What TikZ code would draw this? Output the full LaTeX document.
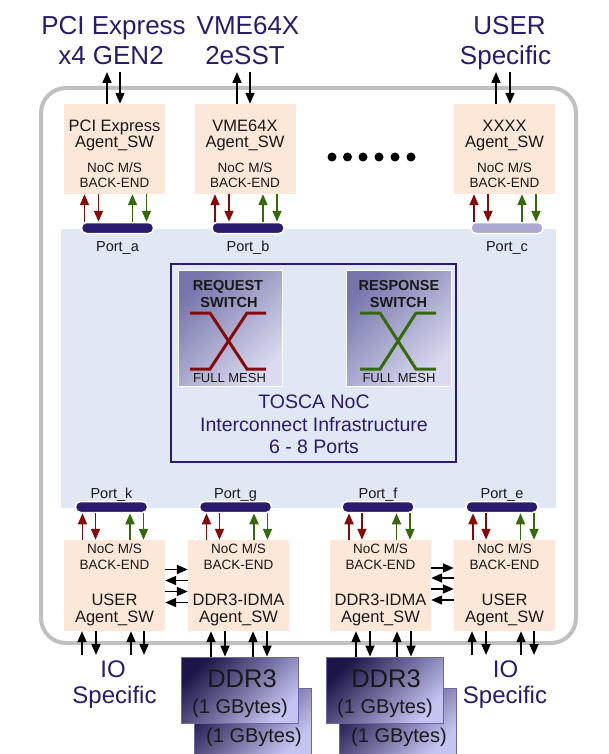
\documentclass[tikz,border=0pt]{standalone}
\usepackage{fontspec}
\setmainfont{Liberation Sans}
\usetikzlibrary{arrows.meta,calc}
\definecolor{navy}{RGB}{43,27,110}
\definecolor{peach}{RGB}{252,231,217}
\definecolor{lblue}{RGB}{224,232,246}
\definecolor{dred}{RGB}{135,10,10}
\definecolor{dgreen}{RGB}{55,105,10}
\definecolor{gborder}{RGB}{192,192,192}
\definecolor{portc}{RGB}{170,170,208}
\definecolor{swdark}{RGB}{118,118,172}
\definecolor{swlight}{RGB}{218,218,240}
\definecolor{ddrdark}{RGB}{28,22,72}
\definecolor{ddrlight}{RGB}{196,196,242}
\definecolor{ddredge}{RGB}{110,100,170}
\definecolor{ink}{RGB}{25,25,25}

\newcommand{\myvc}[5]{\draw[#1] let \p3=(#2), \p1=(#3), \p2=(#4) in (\x3#5,\y1) -- (\x3#5,\y2);}
\newcommand{\myhc}[3]{\draw[barr] let \p1=(#1), \p2=(#2) in (\x1,\y1#3) -- (\x2,\y1#3);}
\newcommand{\topset}[2]{%
  \myvc{rarr}{#1}{#1.north}{#2.south}{-33pt}
  \myvc{rarr}{#1}{#2.south}{#1.north}{-19pt}
  \myvc{garr}{#1}{#1.north}{#2.south}{+15pt}
  \myvc{garr}{#1}{#2.south}{#1.north}{+29pt}}
\newcommand{\botset}[2]{%
  \myvc{rarr}{#1}{#2.north}{#1.south}{-29pt}
  \myvc{rarr}{#1}{#1.south}{#2.north}{-16pt}
  \myvc{garr}{#1}{#2.north}{#1.south}{+18.5pt}
  \myvc{garr}{#1}{#1.south}{#2.north}{+32pt}}
\newcommand{\extset}[6]{%
  \myvc{barr}{#1}{#2}{#1.south}{#3}
  \myvc{barr}{#1}{#1.south}{#2}{#4}
  \myvc{barr}{#1}{#2}{#1.south}{#5}
  \myvc{barr}{#1}{#1.south}{#2}{#6}}
\newcommand{\agenttop}[3]{%
  \node[agent] (#1) at (#2,149) {};
  \node[agtxt] (#1t1) at (#2,131.5) {#3};
  \node[agtxt] (#1t2) at (#2,147.5) {Agent\_SW};
  \node[noctxt] (#1t3) at (#2,172) {NoC M/S};
  \node[noctxt] (#1t4) at (#2,187.5) {BACK-END};}
\newcommand{\agentbot}[3]{%
  \node[agent,minimum height=91pt] (#1) at (#2,585.5) {};
  \node[noctxt] (#1t1) at (#2,553) {NoC M/S};
  \node[noctxt] (#1t2) at (#2,569) {BACK-END};
  \node[agtxt] (#1t3) at (#2,605) {#3};
  \node[agtxt] (#1t4) at (#2,622) {Agent\_SW};}
\newcommand{\myport}[6][]{%
  \node[portbar,#1] (#2) at (#3,#4) {};
  \node[porttxt] (#2t) at (#3,#5) {#6};}

\begin{document}
\begin{tikzpicture}[x=1pt,y=-1pt,
  agent/.style={fill=peach, minimum width=101pt, minimum height=90pt, inner sep=0pt},
  portbar/.style={fill=navy, draw=white, line width=1.5pt, rounded corners=5pt, minimum width=72pt, minimum height=11pt, inner sep=0pt},
  toplbl/.style={text=navy, font=\fontsize{26}{30}\selectfont, inner sep=0pt, anchor=base},
  iolbl/.style={text=navy, font=\fontsize{24}{28}\selectfont, inner sep=0pt, anchor=base},
  agtxt/.style={text=ink, font=\fontsize{16.5}{19}\selectfont, inner sep=0pt, anchor=base},
  noctxt/.style={text=ink, font=\fontsize{13.5}{16}\selectfont, inner sep=0pt, anchor=base},
  porttxt/.style={text=ink, font=\fontsize{14.5}{17}\selectfont, inner sep=0pt, anchor=base},
  swbox/.style={shade, top color=swdark, bottom color=swlight, shading angle=45, draw=white, line width=1pt, inner sep=0pt, minimum height=116pt},
  swtxt/.style={text=ink, font=\bfseries\fontsize{14.5}{17}\selectfont, inner sep=0pt, anchor=base},
  meshtxt/.style={text=ink, font=\fontsize{13}{15}\selectfont, inner sep=0pt, anchor=base},
  tosca/.style={text=navy, font=\fontsize{19.5}{23}\selectfont, inner sep=0pt, anchor=base},
  ddrbox/.style={shade, top color=ddrdark, bottom color=ddrlight, shading angle=45, draw=ddredge, line width=0.8pt, minimum width=117pt, minimum height=66pt, inner sep=0pt},
  ddrtxt/.style={text=ink, font=\fontsize{25.5}{30}\selectfont, inner sep=0pt, anchor=base},
  gbtxt/.style={text=ink, font=\fontsize{20}{24}\selectfont, inner sep=0pt, anchor=base},
  arr/.style={-{Triangle[length=11pt,width=9pt]}, line width=1.7pt},
  rarr/.style={arr, draw=dred},
  garr/.style={arr, draw=dgreen},
  barr/.style={arr, draw=black},
  xred/.style={draw=dred, line width=3pt},
  xgreen/.style={draw=dgreen, line width=3pt},
  dot/.style={circle, fill=black, minimum size=9pt, inner sep=0pt}]
\useasboundingbox (0,0) rectangle (608,754);
\fill[white] (0,0) rectangle (608,754);

% frame and NoC region
\draw[gborder, line width=4pt, rounded corners=25pt] (41,88) rectangle (576,643);
\fill[lblue] (61,229) rectangle (556,508);
\node[draw=navy, fill=lblue, line width=1.2pt, minimum width=285pt, minimum height=198pt, inner sep=0pt] (noc) at (313.5,363) {};

% switches
\node[swbox, minimum width=104pt] (swreq) at (230,328) {};
\node[swtxt] (swreq1) at (228,290) {REQUEST};
\node[swtxt] (swreq2) at (229,307) {SWITCH};
\draw[xred] (190,313) -- (210,313) -- (247,369) -- (266,369);
\draw[xred] (190,369) -- (210,369) -- (247,313) -- (266,313);
\node[meshtxt] (swreq3) at (229.5,382) {FULL MESH};

\node[swbox, minimum width=105pt] (swrsp) at (398.5,328) {};
\node[swtxt] (swrsp1) at (399,290) {RESPONSE};
\node[swtxt] (swrsp2) at (398.5,307) {SWITCH};
\draw[xgreen] (360,313) -- (380,313) -- (416,369) -- (436,369);
\draw[xgreen] (360,369) -- (380,369) -- (416,313) -- (436,313);
\node[meshtxt] (swrsp3) at (399,382) {FULL MESH};

\node[tosca] (tos1) at (314,408) {TOSCA NoC};
\node[tosca] (tos2) at (314,431) {Interconnect Infrastructure};
\node[tosca] (tos3) at (314,453) {6 - 8 Ports};

% top labels
\node[toplbl] (lpci1) at (113.5,35) {PCI Express};
\node[toplbl] (lpci2) at (111,65) {x4 GEN2};
\node[toplbl] (lvme1) at (248,35) {VME64X};
\node[toplbl] (lvme2) at (245,65) {2eSST};
\node[toplbl] (lusr1) at (509.5,35) {USER};
\node[toplbl] (lusr2) at (505.5,65) {Specific};
\coordinate (xpci) at (114.5,72);
\coordinate (xvme) at (245,72);
\coordinate (xusr) at (504.5,72);

% top agents
\agenttop{pci}{114.5}{PCI Express}
\agenttop{vme}{245}{VME64X}
\agenttop{xxx}{504.5}{XXXX}

\foreach \i/\xx in {1/332,2/347.5,3/363,4/379,5/395,6/411}
  \node[dot] (dot\i) at (\xx,157) {};

% top ports
\myport{porta}{117.5}{228}{251}{Port\_a}
\myport{portb}{248}{228}{251}{Port\_b}
\myport[fill=portc]{portc}{507}{228}{251}{Port\_c}

% bottom ports
\myport{portk}{111.5}{507}{498}{Port\_k}
\myport{portg}{235.5}{507}{498}{Port\_g}
\myport{portf}{378}{507}{498}{Port\_f}
\myport{porte}{502}{507}{498}{Port\_e}

% bottom agents
\agentbot{userl}{114.5}{USER}
\agentbot{ddrl}{238.5}{DDR3-IDMA}
\agentbot{ddrr}{380.5}{DDR3-IDMA}
\agentbot{userr}{504.5}{USER}

% DDR3 memories
\node[ddrbox] (memlb) at (253,721) {};
\node[gbtxt] (memlbt) at (254,742) {(1 GBytes)};
\node[ddrbox] (meml) at (239.5,690) {};
\node[ddrtxt] (memlt1) at (242,687) {DDR3};
\node[gbtxt] (memlt2) at (240,713) {(1 GBytes)};
\node[ddrbox] (memrb) at (398,721) {};
\node[gbtxt] (memrbt) at (399,742) {(1 GBytes)};
\node[ddrbox] (memr) at (384.5,690) {};
\node[ddrtxt] (memrt1) at (386,687) {DDR3};
\node[gbtxt] (memrt2) at (385,713) {(1 GBytes)};

% IO labels
\node[iolbl] (iol1) at (113,677) {IO};
\node[iolbl] (iol2) at (114.5,703) {Specific};
\node[iolbl] (ior1) at (505.5,677) {IO};
\node[iolbl] (ior2) at (505,703) {Specific};
\coordinate (iolc) at (113,655);
\coordinate (iorc) at (505,655);

% connectors: agents <-> ports
\topset{porta}{pci}
\topset{portb}{vme}
\topset{portc}{xxx}
\botset{portk}{userl}
\botset{portg}{ddrl}
\botset{portf}{ddrr}
\botset{porte}{userr}

% external top
\myvc{barr}{pci}{pci.north}{xpci}{-7.5pt}
\myvc{barr}{pci}{xpci}{pci.north}{+5.5pt}
\myvc{barr}{vme}{vme.north}{xvme}{-8pt}
\myvc{barr}{vme}{xvme}{vme.north}{+5pt}
\myvc{barr}{xxx}{xxx.north}{xusr}{-8.5pt}
\myvc{barr}{xxx}{xusr}{xxx.north}{+5.5pt}

% external bottom
\extset{userl}{iolc}{-32.5pt}{-18.5pt}{+16.5pt}{+29.5pt}
\extset{ddrl}{meml.north}{-27.5pt}{-13.5pt}{+14.5pt}{+28.5pt}
\extset{ddrr}{memr.north}{-24.5pt}{-10.5pt}{+16.5pt}{+30.5pt}
\extset{userr}{iorc}{-32.5pt}{-18.5pt}{+16.5pt}{+29.5pt}

% side links
\myhc{userl.east}{ddrl.west}{+16pt}
\myhc{ddrl.west}{userl.east}{+5pt}
\myhc{userl.east}{ddrl.west}{-6pt}
\myhc{ddrl.west}{userl.east}{-17pt}
\myhc{ddrr.east}{userr.west}{+17.5pt}
\myhc{userr.west}{ddrr.east}{+7.5pt}
\myhc{ddrr.east}{userr.west}{-3.5pt}
\myhc{userr.west}{ddrr.east}{-14.5pt}
\end{tikzpicture}
\end{document}
